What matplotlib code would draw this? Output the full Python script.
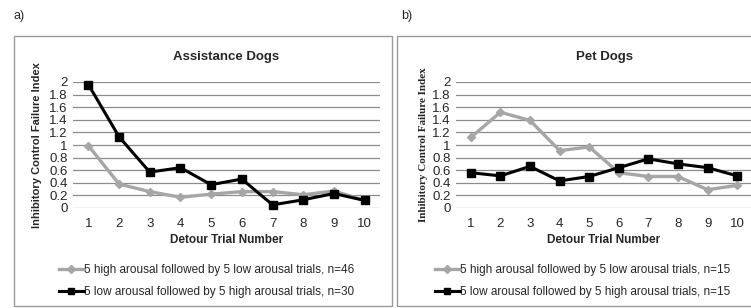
import matplotlib
matplotlib.use("Agg")
import matplotlib.pyplot as plt
from matplotlib.patches import Rectangle

trials = [1, 2, 3, 4, 5, 6, 7, 8, 9, 10]

# Assistance dogs
assist_high_low = [0.99, 0.38, 0.26, 0.17, 0.22, 0.26, 0.26, 0.21, 0.27, 0.12]
assist_low_high = [1.96, 1.13, 0.57, 0.64, 0.37, 0.46, 0.05, 0.13, 0.23, 0.12]

# Pet dogs
pet_high_low = [1.12, 1.52, 1.39, 0.91, 0.97, 0.56, 0.50, 0.50, 0.29, 0.36]
pet_low_high = [0.56, 0.51, 0.66, 0.43, 0.50, 0.64, 0.78, 0.70, 0.64, 0.51]

yticks = [0, 0.2, 0.4, 0.6, 0.8, 1, 1.2, 1.4, 1.6, 1.8, 2]
ytick_labels = ["0", "0.2", "0.4", "0.6", "0.8", "1", "1.2", "1.4", "1.6", "1.8", "2"]

W, H = 751, 308
fig = plt.figure(figsize=(W / 100, H / 100), dpi=100)
plt.rcParams["font.family"] = ["Liberation Sans", "DejaVu Sans"]

grey = "#a6a6a6"
txt = "#262626"


def px(x0, y_top, w, h):
    # pixel box -> figure fraction
    return [x0 / W, (H - y_top - h) / H, w / W, h / H]


def panel(left, width, high_low, low_high, title, n1, n2, ylab_font, ylab_x, leg_x, letter, letter_x):
    ax = fig.add_axes(px(left, 82, width, 126))
    ax.set_xlim(0.5, 10.5)
    ax.set_ylim(0, 2)
    for v in yticks:
        ax.axhline(v, color="#8c8c8c", lw=0.9, zorder=1)
    l1, = ax.plot(trials, high_low, color=grey, lw=2.4, marker="D", ms=4.5,
                  clip_on=False, zorder=3,
                  label="5 high arousal followed by 5 low arousal trials, n=%d" % n1)
    l2, = ax.plot(trials, low_high, color="black", lw=2.2, marker="s", ms=5.5,
                  clip_on=False, zorder=4,
                  label="5 low arousal followed by 5 high arousal trials, n=%d" % n2)
    for s in ax.spines.values():
        s.set_visible(False)
    ax.set_yticks(yticks)
    ax.set_yticklabels(ytick_labels)
    ax.set_xticks(trials)
    ax.tick_params(length=0, labelsize=9.5, colors=txt, pad=4)
    ax.tick_params(axis="x", pad=7)
    ax.set_xlabel("Detour Trial Number", fontsize=8.5, fontweight="bold", color=txt, labelpad=3)
    ax.set_title(title, fontsize=9.5, fontweight="bold", color=txt, pad=16)
    fig.text(ylab_x / W, 1 - 145 / H, "Inhibitory Control Failure Index",
             rotation=90, ha="center", va="center", fontsize=8,
             fontweight="bold", family=ylab_font, color=txt)
    fig.legend(handles=[l1, l2], loc="center left",
               bbox_to_anchor=(leg_x / W, 1 - 281 / H), frameon=False,
               fontsize=8.5, handlelength=2.1, handletextpad=0.05,
               borderpad=0, borderaxespad=0, labelspacing=0.8, labelcolor=txt,
               markerscale=0.8)
    fig.text(letter_x / W, 1 - 16 / H, letter, fontsize=9, color=txt,
             ha="left", va="center")
    return ax


fig.patches.append(Rectangle((14 / W, 2 / H), 378 / W, 270 / H, transform=fig.transFigure,
                             fill=False, edgecolor="#9a9a9a", lw=1))
fig.patches.append(Rectangle((397 / W, 2 / H), 360 / W, 270 / H, transform=fig.transFigure,
                             fill=False, edgecolor="#9a9a9a", lw=1))

panel(73, 307, assist_high_low, assist_low_high, "Assistance Dogs", 46, 30,
      ["Liberation Sans"], 37, 59, "a)", 14)
panel(456, 296, pet_high_low, pet_low_high, "Pet Dogs", 15, 15,
      ["Liberation Serif"], 424, 435, "b)", 401)

fig.savefig("out.png", dpi=100)
